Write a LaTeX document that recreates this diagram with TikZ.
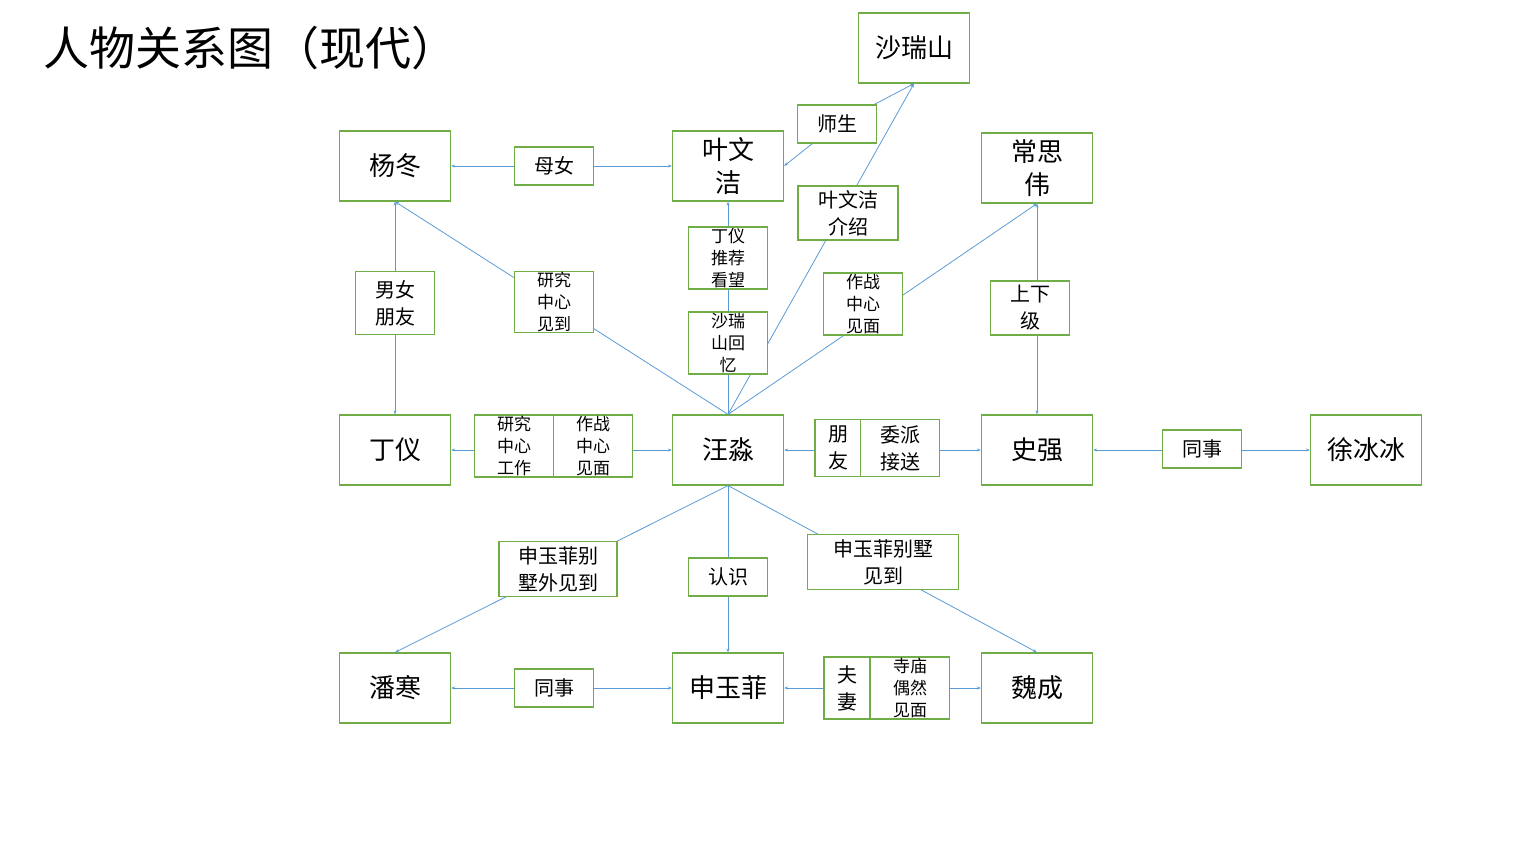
\documentclass[tikz,border=0pt]{standalone}
\usepackage{fontspec}
\setmainfont{Noto Sans CJK SC}
\usetikzlibrary{arrows.meta}
\definecolor{bx}{HTML}{70AD47}
\definecolor{ln}{HTML}{5B9BD5}
\begin{document}
\begin{tikzpicture}[x=1pt,y=-1pt,
 pbox/.style={draw=bx,line width=1.2pt,fill=white,minimum width=111pt,minimum height=70pt,inner sep=0pt,align=center,font=\fontsize{26}{33}\selectfont},
 lbl/.style={draw=bx,line width=1.2pt,fill=white,inner sep=0pt,align=center,font=\fontsize{20}{27}\selectfont},
 sml/.style={lbl,font=\fontsize{17}{22}\selectfont},
 con/.style={draw=ln,line width=0.8pt,{Stealth[length=4pt,width=3pt]}-{Stealth[length=4pt,width=3pt]}},
 con1/.style={draw=ln,line width=0.8pt,-{Stealth[length=4pt,width=3pt]}}]
\useasboundingbox (0,0) rectangle (1536,864);
\node[anchor=west,font=\fontsize{46}{50}\selectfont] (title) at (40,48) {人物关系图（现代）};
\node[pbox] (srs) at (914,48) {沙瑞山};
\node[pbox] (ywj) at (728,166) {叶文\\洁};
\node[pbox] (yd) at (395,166) {杨冬};
\node[pbox] (csw) at (1037,168) {常思\\伟};
\node[pbox] (dy) at (395,450) {丁仪};
\node[pbox] (wm) at (728,450) {汪淼};
\node[pbox] (sq) at (1037,450) {史强};
\node[pbox] (xbb) at (1366,450) {徐冰冰};
\node[pbox] (ph) at (395,688) {潘寒};
\node[pbox] (syf) at (728,688) {申玉菲};
\node[pbox] (wc) at (1037,688) {魏成};
% connectors
\draw[con] (yd.east) -- (ywj.west);
\draw[con1] (wm.north) -- (ywj.south);
\draw[con1] (wm.north) -- (srs.south);
\draw[con1] (wm.north) -- (yd.south);
\draw[con1] (wm.north) -- (csw.south);
\draw[con1] (837,124) -- (ywj.east);
\draw[con1] (837,124) -- (srs.south);
\draw[con] (yd.south) -- (dy.north);
\draw[con] (csw.south) -- (sq.north);
\draw[con] (dy.east) -- (wm.west);
\draw[con] (wm.east) -- (sq.west);
\draw[con] (sq.east) -- (xbb.west);
\draw[con1] (wm.south) -- (ph.north);
\draw[con1] (wm.south) -- (syf.north);
\draw[con1] (wm.south) -- (wc.north);
\draw[con] (ph.east) -- (syf.west);
\draw[con] (syf.east) -- (wc.west);
% labels
\node[lbl,minimum width=79pt,minimum height=38pt] (l1) at (554,166) {母女};
\node[lbl,minimum width=79pt,minimum height=38pt] (l2) at (837,124) {师生};
\node[lbl,minimum width=100pt,minimum height=54pt] (l3) at (848,213) {叶文洁\\介绍};
\node[sml,minimum width=79pt,minimum height=62pt] (l4) at (728,258) {丁仪\\推荐\\看望};
\node[lbl,minimum width=79pt,minimum height=63pt] (l5) at (395,303) {男女\\朋友};
\node[sml,minimum width=79pt,minimum height=61pt] (l6) at (554,302) {研究\\中心\\见到};
\node[sml,minimum width=79pt,minimum height=62pt] (l7) at (863,304) {作战\\中心\\见面};
\node[lbl,minimum width=79pt,minimum height=54pt] (l8) at (1030,308) {上下\\级};
\node[sml,minimum width=79pt,minimum height=62pt] (l9) at (728,343) {沙瑞\\山回\\忆};
\node[sml,minimum width=79pt,minimum height=62pt] (l10) at (514,446) {研究\\中心\\工作};
\node[sml,minimum width=79pt,minimum height=62pt] (l11) at (593,446) {作战\\中心\\见面};
\node[lbl,minimum width=46pt,minimum height=57pt] (l12) at (838,448) {朋\\友};
\node[lbl,minimum width=79pt,minimum height=57pt] (l13) at (900,448) {委派\\接送};
\node[lbl,minimum width=79pt,minimum height=38pt] (l14) at (1202,449) {同事};
\node[lbl,minimum width=118pt,minimum height=55pt] (l15) at (558,569) {申玉菲别\\墅外见到};
\node[lbl,minimum width=79pt,minimum height=38pt] (l16) at (728,577) {认识};
\node[lbl,minimum width=151pt,minimum height=55pt] (l17) at (883,562) {申玉菲别墅\\见到};
\node[lbl,minimum width=79pt,minimum height=38pt] (l18) at (554,688) {同事};
\node[lbl,minimum width=46pt,minimum height=62pt] (l19) at (847,688) {夫\\妻};
\node[sml,minimum width=79pt,minimum height=62pt] (l20) at (910,688) {寺庙\\偶然\\见面};
\end{tikzpicture}
\end{document}
